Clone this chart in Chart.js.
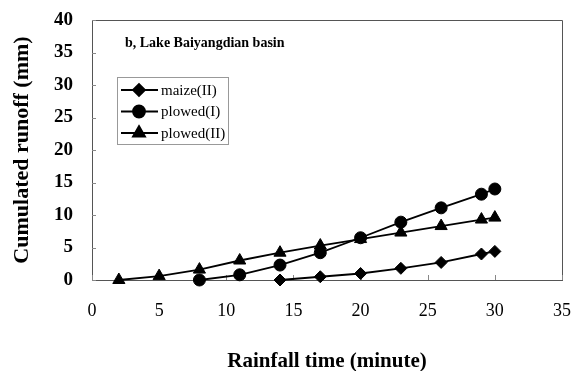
<!DOCTYPE html>
<html>
<head>
<meta charset="utf-8">
<script src="https://cdn.jsdelivr.net/npm/chart.js@4/dist/chart.umd.min.js"></script>
<style>
  html, body { margin: 0; padding: 0; background: #fff; }
  #wrap { width: 576px; height: 371px; }
</style>
</head>
<body>
<div id="wrap"><canvas id="runoff" width="576" height="371"></canvas></div>
<script>
// rainfall time (minute) and cumulated runoff (mm)
const timeMaize = [14, 17, 20, 23, 26, 29, 30];
const maizeII = [0, 0.5, 1.0, 1.8, 2.7, 4.0, 4.4];

const timePlowedI = [8, 11, 14, 17, 20, 23, 26, 29, 30];
const plowedI = [0, 0.8, 2.3, 4.2, 6.5, 8.9, 11.1, 13.2, 14.0];

const timePlowedII = [2, 5, 8, 11, 14, 17, 20, 23, 26, 29, 30];
const plowedII = [0, 0.6, 1.6, 3.0, 4.2, 5.3, 6.3, 7.3, 8.3, 9.3, 9.6];

const seriesNames = ['maize(II)', 'plowed(I)', 'plowed(II)'];
const panelLabel = 'b, Lake Baiyangdian basin';

const pair = (xs, ys) => xs.map((x, i) => ({x: x, y: ys[i]}));
const serif = "'Liberation Serif', 'Times New Roman', serif";

const styles = [
  {pointStyle: 'rectRot', radius: 6},
  {pointStyle: 'circle', radius: 6},
  {pointStyle: 'triangle', radius: 7}
];

// frame on top/right, inner tick marks, panel label and boxed legend
const extras = {
  id: 'extras',
  beforeDatasetsDraw(chart) {
    const {ctx, chartArea: a, scales} = chart;
    ctx.save();
    ctx.strokeStyle = '#555';
    ctx.lineWidth = 1;
    ctx.beginPath();
    ctx.moveTo(a.left, a.top + 0.5);
    ctx.lineTo(a.right + 0.5, a.top + 0.5);
    ctx.lineTo(a.right + 0.5, a.bottom);
    ctx.stroke();
    ctx.strokeStyle = '#888';
    ctx.beginPath();
    scales.y.ticks.forEach(t => {
      const y = Math.round(scales.y.getPixelForValue(t.value)) + 0.5;
      ctx.moveTo(a.left, y);
      ctx.lineTo(a.left + 4, y);
    });
    scales.x.ticks.forEach(t => {
      const x = Math.round(scales.x.getPixelForValue(t.value)) + 0.5;
      ctx.moveTo(x, a.bottom);
      ctx.lineTo(x, a.bottom - 5);
    });
    ctx.stroke();
    ctx.restore();
  },
  afterDraw(chart) {
    const {ctx} = chart;
    ctx.save();
    ctx.fillStyle = '#000';
    ctx.font = 'bold 14px ' + serif;
    ctx.textBaseline = 'middle';
    ctx.fillText(panelLabel, 125, 43);

    // legend box
    ctx.strokeStyle = '#999';
    ctx.lineWidth = 1;
    ctx.strokeRect(117.5, 77.5, 111, 67);
    ctx.font = '15px ' + serif;
    seriesNames.forEach((name, i) => {
      const y = 90 + i * 21.5;
      ctx.strokeStyle = '#000';
      ctx.lineWidth = 1.8;
      ctx.beginPath();
      ctx.moveTo(121, y);
      ctx.lineTo(158, y);
      ctx.stroke();
      ctx.fillStyle = '#000';
      Chart.helpers.drawPoint(ctx, {pointStyle: styles[i].pointStyle, radius: styles[i].radius, rotation: 0, borderWidth: 1}, 139, y);
      ctx.fillStyle = '#000';
      ctx.fillText(name, 161, y + 1);
    });
    ctx.restore();
  }
};

const mkSet = (label, data, st) => ({
  label: label,
  data: data,
  borderColor: '#000',
  backgroundColor: '#000',
  borderWidth: 1.8,
  pointStyle: st.pointStyle,
  pointRadius: st.radius,
  pointBorderWidth: 1,
  pointBackgroundColor: '#000',
  pointBorderColor: '#000',
  tension: 0,
  clip: false
});

new Chart(document.getElementById('runoff'), {
  type: 'line',
  data: {
    datasets: [
      mkSet(seriesNames[0], pair(timeMaize, maizeII), styles[0]),
      mkSet(seriesNames[1], pair(timePlowedI, plowedI), styles[1]),
      mkSet(seriesNames[2], pair(timePlowedII, plowedII), styles[2])
    ]
  },
  options: {
    responsive: false,
    animation: false,
    layout: {padding: {top: 20, right: 14, left: 0, bottom: 0}},
    plugins: {legend: {display: false}, tooltip: {enabled: false}},
    scales: {
      x: {
        type: 'linear',
        min: 0, max: 35,
        afterFit(s) { s.height = 91; },
        ticks: {stepSize: 5, padding: 0, color: '#000', font: {family: serif, size: 18}, maxRotation: 0},
        grid: {display: true, drawOnChartArea: false, drawTicks: true, tickLength: 20, tickColor: 'rgba(0,0,0,0)'},
        border: {display: true, color: '#555', width: 1},
        title: {display: true, text: 'Rainfall time (minute)', color: '#000', padding: {top: 0, bottom: -3},
                font: {family: serif, size: 21, weight: 'bold'}}
      },
      y: {
        min: 0, max: 40,
        afterFit(s) { s.width = 92; },
        ticks: {stepSize: 5, padding: 0, color: '#000', font: {family: serif, size: 19, weight: 'bold'}},
        grid: {display: true, drawOnChartArea: false, drawTicks: true, tickLength: 19, tickColor: 'rgba(0,0,0,0)'},
        border: {display: true, color: '#555', width: 1},
        title: {display: true, text: 'Cumulated runoff (mm)', color: '#000', padding: {top: 9, bottom: 9},
                font: {family: serif, size: 22, weight: 'bold'}}
      }
    }
  },
  plugins: [extras]
});
</script>
</body>
</html>
